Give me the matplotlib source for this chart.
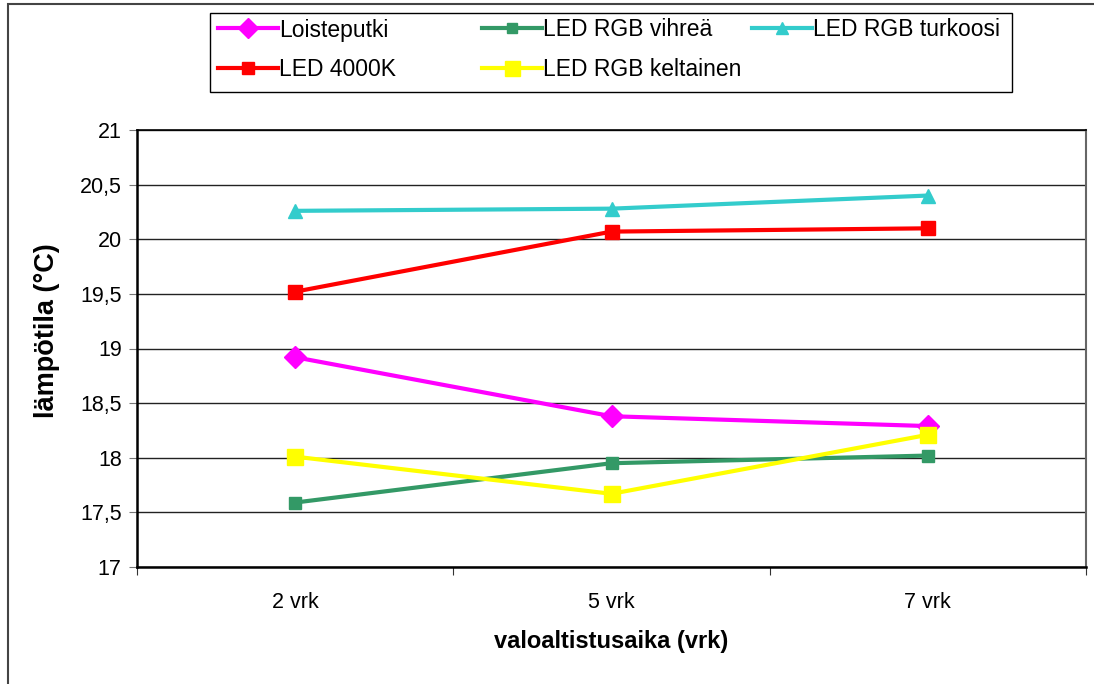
import matplotlib
matplotlib.use("Agg")
import matplotlib.pyplot as plt
from matplotlib.patches import Rectangle

plt.rcParams['font.family'] = ['Liberation Sans', 'DejaVu Sans']

categories = ["2 vrk", "5 vrk", "7 vrk"]
loisteputki = [18.92, 18.38, 18.29]
led_4000k = [19.52, 20.07, 20.10]
led_vihrea = [17.59, 17.95, 18.02]
led_keltainen = [18.01, 17.67, 18.21]
led_turkoosi = [20.26, 20.28, 20.40]
y_ticks = [17, 17.5, 18, 18.5, 19, 19.5, 20, 20.5, 21]

W, H = 1094, 684
fig = plt.figure(figsize=(W / 100, H / 100), dpi=100)
ax = fig.add_axes([137 / W, 1 - 567 / H, (1086 - 137) / W, (567 - 130) / H])

x = [i + 0.5 for i in range(len(categories))]
lw = 3.0
h1, = ax.plot(x, loisteputki, color='#FF00FF', marker='D', ms=11, lw=lw, label='Loisteputki', zorder=5)
h2, = ax.plot(x, led_4000k, color='#FF0000', marker='s', ms=10, lw=lw, label='LED 4000K', zorder=5)
h3, = ax.plot(x, led_vihrea, color='#339966', marker='s', ms=8, lw=lw, label='LED RGB vihreä', zorder=5)
h4, = ax.plot(x, led_keltainen, color='#FFFF00', marker='s', ms=12, lw=lw, label='LED RGB keltainen', zorder=5)
h5, = ax.plot(x, led_turkoosi, color='#33CCCC', marker='^', ms=10, lw=lw, label='LED RGB turkoosi', zorder=5)

ax.set_xlim(0, len(categories))
ax.set_ylim(17, 21)
ax.set_yticks(y_ticks)
ax.set_yticklabels([str(v).replace('.', ',') if v % 1 else str(int(v)) for v in y_ticks], fontsize=15.5)
ax.set_xticks(range(len(categories) + 1))
ax.set_xticklabels([])
ax.set_xticks(x, minor=True)
ax.set_xticklabels(categories, minor=True, fontsize=15.5)
ax.tick_params(axis='x', which='minor', length=0, pad=18)
ax.tick_params(axis='x', which='major', direction='out', length=6, width=0.8, color='#333333')
ax.tick_params(axis='y', direction='out', length=6, width=0.8, color='#777777', pad=5)
ax.yaxis.grid(True, color='#222222', lw=1.0)
ax.set_axisbelow(True)
for s in ['left', 'bottom']:
    ax.spines[s].set_linewidth(1.8)
    ax.spines[s].set_color('black')
ax.spines['top'].set_linewidth(1.2)
ax.spines['right'].set_linewidth(1.5)
ax.spines['right'].set_color('#666666')

ax.set_ylabel('lämpötila (°C)', fontsize=19.5, fontweight='bold')
ax.yaxis.set_label_coords((60 - 137) / (1086 - 137), (567 - 331) / (567 - 130))
ax.set_xlabel('valoaltistusaika (vrk)', fontsize=17, fontweight='bold', labelpad=12)

# Legend: framed box with equal-width columns like the original
fig.patches.append(Rectangle((210 / W, 1 - 92 / H), (1012 - 210) / W, (92 - 13) / H,
                             transform=fig.transFigure, fill=False, edgecolor='black', lw=1.0))
entries = [(h1, 218, 30), (h3, 482, 30), (h5, 752, 30), (h2, 218, 70), (h4, 482, 70)]
for h, px, py in entries:
    fig.legend([h], [h.get_label()], loc='center left', bbox_to_anchor=(px / W, 1 - py / H),
               frameon=False, fontsize=16.5, handlelength=2.6, handletextpad=0.05,
               borderpad=0, borderaxespad=0, markerscale=0.9)

fig.patches.append(Rectangle((8 / W, -0.01), 1.0, 1 - 4 / H + 0.01, transform=fig.transFigure,
                             fill=False, edgecolor='#444444', lw=1.5))

fig.savefig('out.png', dpi=100)
